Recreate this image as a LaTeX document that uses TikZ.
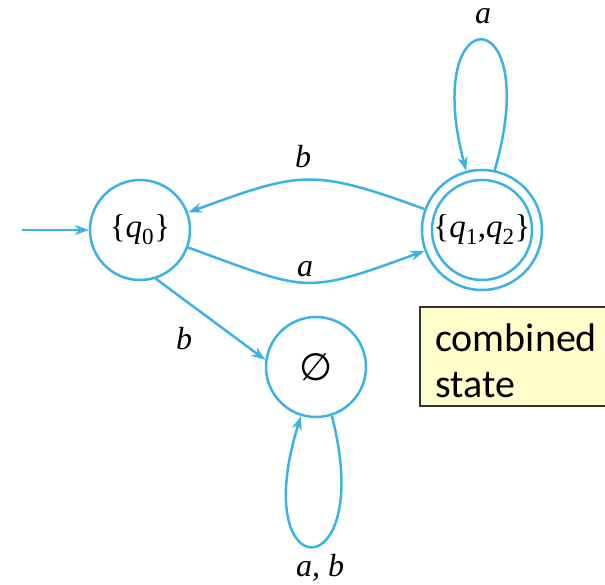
\documentclass[tikz,border=0pt]{standalone}
\usepackage{fontspec}
\setmainfont{Liberation Serif}
\newfontfamily\boxfont{Carlito}
\newfontfamily\symfont{DejaVu Sans}
\usetikzlibrary{arrows.meta}
\definecolor{dfablue}{RGB}{58,178,230}
\definecolor{notefill}{RGB}{255,255,204}
\tikzset{
  dfastate/.style={circle, draw=dfablue, line width=2.5pt, minimum size=100pt, inner sep=0pt, font=\fontsize{33}{36}\selectfont},
  trans/.style={draw=dfablue, line width=2.5pt, -{Stealth[length=14pt,width=10pt]}},
  lbl/.style={font=\fontsize{32}{34}\selectfont\itshape, inner sep=0pt, anchor=base},
  note/.style={draw=black!80, line width=1.2pt, fill=notefill}
}
\begin{document}
\begin{tikzpicture}[x=1pt,y=1pt]
\useasboundingbox (0,0) rectangle (605,585);
% note box
\path[note] (420,179) rectangle (615,278);
\node[font=\boxfont\fontsize{40}{46}\selectfont, anchor=base west, inner sep=0pt] (c1) at (435,233) {combined};
\node[font=\boxfont\fontsize{40}{46}\selectfont, anchor=base west, inner sep=0pt] (c2) at (435,187) {state};
% states
\node[dfastate] (q0) at (140,355) {\{\textit{q}\textsubscript{0}\}};
\node[dfastate, minimum size=120pt] (q12) at (482,355) {\{\textit{q}\textsubscript{1},\textit{q}\textsubscript{2}\}};
\draw[dfablue, line width=2.5pt] (q12.center) circle[radius=50];
\node[dfastate] (E) at (316,218) {\symfont\fontsize{38}{40}\selectfont ∅};
% initial
\coordinate (init) at (22,355);
\draw[trans] (init) -- (q0);
% transitions
\draw[trans] (q0) to[out=-20,in=-160,looseness=1.4] (q12);
\draw[trans] (q12) to[out=160,in=20,looseness=1.3] (q0);
\draw[trans] (q0.-72) -- (E.172);
\draw[trans] (q12.78) .. controls +(50,173) and +(-46,174) .. (q12.105);
\draw[trans] (E.-72) .. controls +(45,-174) and +(-55,-174) .. (E.-107);
% labels
\node[lbl] (la) at (305,308) {a};
\node[lbl] (lb) at (303,417) {b};
\node[lbl] (lb2) at (184,235) {b};
\node[lbl] (la2) at (483,561) {a};
\node[lbl] (lab) at (320,8) {a, b};
\end{tikzpicture}
\end{document}
